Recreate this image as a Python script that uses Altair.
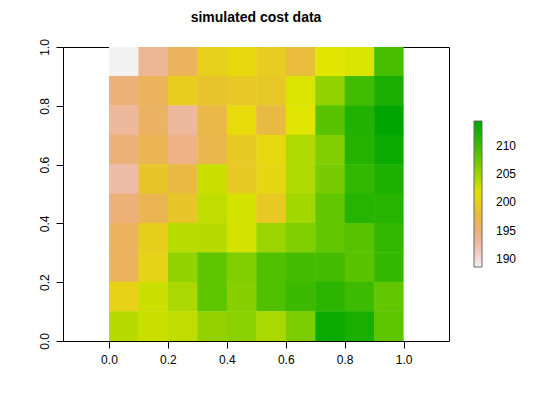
import colorsys
import altair as alt
import pandas as pd

# grid cell centres
x_centers = [0.05, 0.15, 0.25, 0.35, 0.45, 0.55, 0.65, 0.75, 0.85, 0.95]
y_centers_top_down = [0.95, 0.85, 0.75, 0.65, 0.55, 0.45, 0.35, 0.25, 0.15, 0.05]

# simulated cost values, rows from top (y=0.95) to bottom (y=0.05)
cost_rows = [
    [188.6, 193.5, 196.5, 200.0, 200.7, 199.7, 198.2, 201.7, 202.0, 209.5],
    [195.0, 196.5, 199.8, 199.0, 199.4, 199.4, 202.0, 205.5, 210.0, 212.5],
    [193.0, 196.0, 193.0, 197.5, 200.8, 197.8, 201.8, 208.5, 212.0, 214.4],
    [195.0, 197.0, 194.2, 197.3, 199.5, 200.6, 204.0, 206.3, 211.7, 213.6],
    [192.5, 199.2, 197.8, 202.8, 199.5, 200.5, 204.0, 206.8, 210.8, 212.3],
    [195.0, 197.0, 199.2, 203.2, 202.2, 199.5, 204.6, 208.0, 211.6, 211.6],
    [196.5, 199.9, 203.5, 203.6, 202.2, 205.0, 206.3, 208.0, 208.7, 211.0],
    [196.5, 200.3, 205.5, 208.2, 206.3, 209.0, 209.8, 209.8, 208.5, 210.8],
    [200.2, 202.8, 204.2, 208.2, 206.0, 209.0, 210.3, 211.3, 210.2, 208.0],
    [203.6, 202.8, 203.2, 205.4, 205.8, 204.2, 206.6, 213.6, 212.5, 208.3],
]

axis_ticks = [0.0, 0.2, 0.4, 0.6, 0.8, 1.0]
legend_ticks = [190, 195, 200, 205, 210]
z_min, z_max = 188.6, 214.4
cell = 0.1
seam = 0.0015  # tiny overlap so anti-aliased edges do not show white seams

rows = []
for yc, vals in zip(y_centers_top_down, cost_rows):
    for xc, v in zip(x_centers, vals):
        x0 = xc - cell / 2
        x1 = min(xc + cell / 2 + seam, 1.0)
        y0 = yc - cell / 2
        y1 = min(yc + cell / 2 + seam, 1.0)
        rows.append({"x0": x0, "x1": x1, "y0": y0, "y1": y1, "cost": v})
df = pd.DataFrame(rows)


# reversed R terrain.colors as a continuous palette
def terrain_rev(t):
    # t: 0 -> low (near white), 1 -> high (green)
    u = 1 - t  # position in original terrain order
    if u <= 0.5:
        a = u / 0.5
        h = 4 / 12 + (2 / 12 - 4 / 12) * a
        s = 1.0
        v = 0.65 + (0.9 - 0.65) * a
    else:
        a = (u - 0.5) / 0.5
        h = 2 / 12 * (1 - a)
        s = 1 - a
        v = 0.9 + 0.05 * a
    r, g, b = colorsys.hsv_to_rgb(h, s, v)
    return "#%02x%02x%02x" % (round(r * 255), round(g * 255), round(b * 255))


n_stops = 25
stops = [i / (n_stops - 1) for i in range(n_stops)]
palette = [terrain_rev(t) for t in stops]
pal_domain = [z_min + (z_max - z_min) * t for t in stops]

font = "Liberation Sans"

chart = alt.Chart(df).mark_rect(strokeWidth=0).encode(
    x=alt.X("x0:Q", scale=alt.Scale(domain=[-0.156, 1.154], nice=False, zero=False),
            axis=alt.Axis(values=axis_ticks, format=".1f", title=None, grid=False,
                          domain=False, tickColor="black", tickSize=7,
                          labelColor="black", labelFontSize=12, labelFont=font,
                          labelPadding=6, labelFlush=False)),
    x2="x1:Q",
    y=alt.Y("y0:Q", scale=alt.Scale(domain=[0, 1], nice=False, zero=False),
            axis=alt.Axis(values=axis_ticks, format=".1f", title=None, grid=False,
                          domain=False, tickColor="black", tickSize=7,
                          labelColor="black", labelFontSize=12, labelFont=font,
                          labelAngle=270, labelPadding=5, labelFlush=False)),
    y2="y1:Q",
    color=alt.Color("cost:Q",
                    scale=alt.Scale(domain=pal_domain, range=palette, interpolate="rgb"),
                    legend=alt.Legend(orient="none", legendX=411, legendY=74,
                                      direction="vertical", title=None,
                                      gradientLength=146, gradientThickness=8,
                                      gradientStrokeColor="#666666", gradientStrokeWidth=1,
                                      values=legend_ticks, labelFontSize=12,
                                      labelFont=font, labelColor="black",
                                      labelOffset=14)),
).properties(
    width=386,
    height=294,
    title=alt.TitleParams("simulated cost data", font=font, fontSize=14,
                          fontWeight="bold", color="black", anchor="middle",
                          offset=14),
    autosize=alt.AutoSizeParams(type="none"),
    padding={"left": 63, "top": 47, "right": 91, "bottom": 59},
).configure_view(stroke="black", strokeWidth=1)

chart.save("out.html", embed_options={"renderer": "svg", "actions": False})
